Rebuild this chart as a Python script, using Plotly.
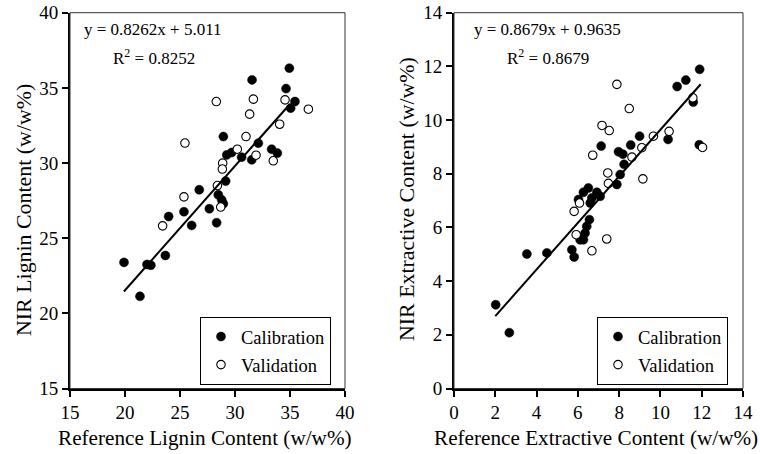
import plotly.graph_objects as go

# ---------------- data ----------------
lig_cal_x = [34.94, 31.55, 34.64, 35.45, 35.06, 28.94, 32.12, 33.33, 33.85, 29.25,
             29.70, 30.60, 31.52, 29.15, 26.75, 28.48, 28.79, 28.94, 27.67, 28.33,
             25.36, 23.97, 26.06, 23.67, 19.91, 22.00, 22.35, 21.36]
lig_cal_y = [36.31, 35.53, 34.95, 34.09, 33.65, 31.76, 31.32, 30.92, 30.66, 30.54,
             30.70, 30.39, 30.21, 28.80, 28.22, 27.89, 27.55, 27.29, 26.96, 26.03,
             26.76, 26.44, 25.85, 23.85, 23.39, 23.25, 23.20, 21.13]
lig_val_x = [28.30, 31.67, 34.55, 36.67, 31.33, 34.06, 25.45, 31.00, 30.21, 31.91,
             33.48, 28.88, 28.85, 28.40, 28.70, 25.36, 23.42]
lig_val_y = [34.09, 34.25, 34.20, 33.58, 33.25, 32.58, 31.33, 31.76, 30.92, 30.52,
             30.15, 29.99, 29.60, 28.50, 27.07, 27.75, 25.82]
lig_slope, lig_icpt, lig_r2 = 0.8262, 5.011, 0.8252
lig_fit_x = [19.9, 35.0]

ext_cal_x = [11.90, 11.23, 10.81, 11.59, 11.88, 10.37, 8.99, 8.56, 7.13, 7.97,
             8.18, 8.24, 8.05, 7.89, 6.51, 6.27, 6.92, 6.03, 6.68, 7.08,
             6.60, 6.56, 6.43, 6.35, 6.27, 6.11, 5.71, 5.82, 3.53, 4.50,
             2.02, 2.68]
ext_cal_y = [11.89, 11.49, 11.25, 10.67, 9.08, 9.28, 9.40, 9.07, 9.03, 8.82,
             8.73, 8.35, 7.97, 7.60, 7.47, 7.31, 7.31, 7.04, 7.10, 7.16,
             6.91, 6.29, 6.04, 5.79, 5.54, 5.54, 5.17, 4.90, 5.01, 5.05,
             3.12, 2.08]
ext_val_x = [7.89, 8.49, 7.17, 7.52, 6.72, 9.66, 10.42, 11.57, 12.04, 9.10,
             8.62, 7.45, 7.48, 9.15, 6.08, 5.82, 5.92, 7.40, 6.68]
ext_val_y = [11.33, 10.43, 9.80, 9.61, 8.69, 9.40, 9.58, 10.83, 8.98, 8.97,
             8.62, 8.03, 7.64, 7.81, 6.91, 6.60, 5.73, 5.57, 5.13]
ext_slope, ext_icpt, ext_r2 = 0.8679, 0.9635, 0.8679
ext_fit_x = [2.0, 11.95]

lig_ticks = [15, 20, 25, 30, 35, 40]
ext_ticks = [0, 2, 4, 6, 8, 10, 12, 14]

# ---------------- figure ----------------
W, H = 760, 454
FONT = "Liberation Serif"
fig = go.Figure()

def fx(p):
    return p / W

def fy(p):
    return 1 - p / H

cal_marker = dict(symbol="circle", size=9, color="black", line=dict(color="black", width=0.5))
val_marker = dict(symbol="circle", size=8.5, color="white", line=dict(color="black", width=1.1))

# left panel
fig.add_trace(go.Scatter(x=lig_cal_x, y=lig_cal_y, mode="markers", name="Calibration",
                         marker=cal_marker, xaxis="x", yaxis="y", legend="legend",
                         legendgroup="lc"))
fig.add_trace(go.Scatter(x=lig_val_x, y=lig_val_y, mode="markers", name="Validation",
                         marker=val_marker, xaxis="x", yaxis="y", legend="legend",
                         legendgroup="lv"))
fig.add_trace(go.Scatter(x=lig_fit_x, y=[lig_slope * v + lig_icpt for v in lig_fit_x],
                         mode="lines", line=dict(color="black", width=2),
                         showlegend=False, xaxis="x", yaxis="y"))
# right panel
fig.add_trace(go.Scatter(x=ext_cal_x, y=ext_cal_y, mode="markers", name="Calibration",
                         marker=cal_marker, xaxis="x2", yaxis="y2", legend="legend2",
                         legendgroup="ec"))
fig.add_trace(go.Scatter(x=ext_val_x, y=ext_val_y, mode="markers", name="Validation",
                         marker=val_marker, xaxis="x2", yaxis="y2", legend="legend2",
                         legendgroup="ev"))
fig.add_trace(go.Scatter(x=ext_fit_x, y=[ext_slope * v + ext_icpt for v in ext_fit_x],
                         mode="lines", line=dict(color="black", width=2),
                         showlegend=False, xaxis="x2", yaxis="y2"))

ax_common = dict(showgrid=False, zeroline=False, showline=True, linecolor="black", linewidth=2,
                 ticks="outside", ticklen=6, tickwidth=1.5, tickcolor="black", automargin=False,
                 tickfont=dict(family=FONT, size=19, color="black"))

leg_common = dict(xanchor="right", yanchor="top", bordercolor="black", borderwidth=1,
                  bgcolor="white", font=dict(family=FONT, size=18.5, color="black"),
                  itemwidth=30, traceorder="grouped", tracegroupgap=1)

ydom = [fy(388.5), fy(12.7)]
fig.update_layout(
    width=W, height=H, margin=dict(l=0, r=0, t=0, b=0, pad=0, autoexpand=False),
    paper_bgcolor="white", plot_bgcolor="white",
    font=dict(family=FONT, color="black"),
    xaxis=dict(domain=[fx(70), fx(345)], range=[15, 40], tickvals=lig_ticks, anchor="y", **ax_common),
    yaxis=dict(domain=ydom, range=[15, 40], tickvals=lig_ticks, anchor="x", **ax_common),
    xaxis2=dict(domain=[fx(454), fx(743)], range=[0, 14], tickvals=ext_ticks, anchor="y2", **ax_common),
    yaxis2=dict(domain=ydom, range=[0, 14], tickvals=ext_ticks, anchor="x2", **ax_common),
    legend=dict(x=fx(331), y=fy(317), **leg_common),
    legend2=dict(x=fx(728), y=fy(317), **leg_common),
    showlegend=True,
)

# thin frame (top/right)
for xr, yr in (("x domain", "y domain"), ("x2 domain", "y2 domain")):
    fig.add_shape(type="rect", xref=xr, yref=yr, x0=0, x1=1, y0=0, y1=1,
                  line=dict(color="#333333", width=1), layer="above")

ann_font = dict(family=FONT, size=17, color="black")
xt_font = dict(family=FONT, size=21.2, color="black")
yt_font = dict(family=FONT, size=21.9, color="black")
annots = [
    dict(x=fx(82), y=fy(30), text=f"y = {lig_slope}x + {lig_icpt}", xanchor="left", font=ann_font),
    dict(x=fx(111), y=fy(57), text=f"R<sup>2</sup> = {lig_r2}", xanchor="left", font=ann_font),
    dict(x=fx(472), y=fy(30), text=f"y = {ext_slope}x + {ext_icpt}", xanchor="left", font=ann_font),
    dict(x=fx(505), y=fy(57), text=f"R<sup>2</sup> = {ext_r2}", xanchor="left", font=ann_font),
    dict(x=fx(205), y=fy(438), text="Reference Lignin Content (w/w%)", font=xt_font),
    dict(x=fx(596), y=fy(438), text="Reference Extractive Content (w/w%)", font=xt_font),
    dict(x=fx(23), y=fy(210), text="NIR Lignin Content (w/w%)", textangle=-90, font=yt_font),
    dict(x=fx(407), y=fy(199), text="NIR Extractive Content (w/w%)", textangle=-90, font=yt_font),
]
for a in annots:
    a.update(xref="paper", yref="paper", showarrow=False, yanchor="middle")
    a.setdefault("xanchor", "center")
    fig.add_annotation(**a)

fig.write_html("out.html")
